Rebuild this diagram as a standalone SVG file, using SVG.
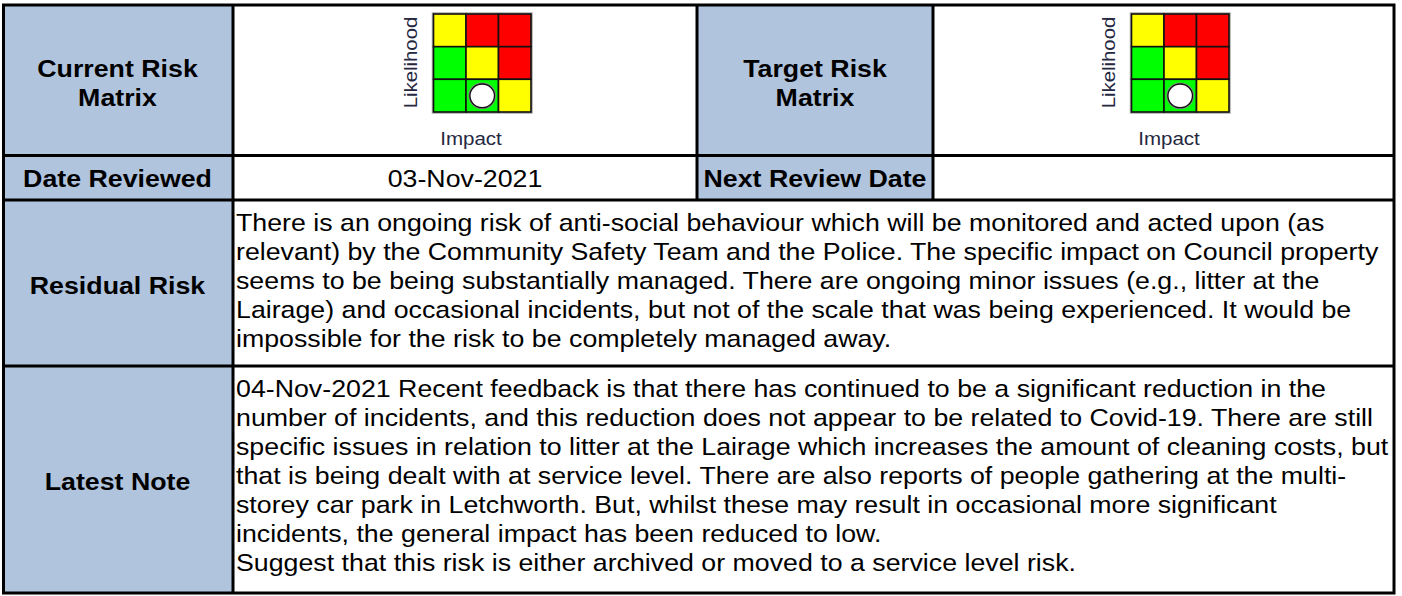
<svg xmlns="http://www.w3.org/2000/svg" width="1402" height="596" viewBox="0 0 1402 596">
<style>
.lbl{font-family:"Liberation Sans",Arial,sans-serif;font-weight:bold;font-size:24px;fill:#000}
.txt{font-family:"Liberation Sans",Arial,sans-serif;font-size:24px;fill:#000}
.ax{font-family:"Liberation Sans",Arial,sans-serif;font-size:18.5px;fill:#25283f}
.hdr{fill:#B0C4DE}
.line{stroke:#000;stroke-width:3;fill:none}
.cell{stroke:#111;stroke-width:1.6}
.y{fill:#FFFF00}
.r{fill:#FF0000}
.g{fill:#00FF00}
</style>
<defs>
<g id="matrix">
<rect x="433.5" y="14" width="97.5" height="98" fill="none" stroke="#aaa" stroke-width="3.5"/>
<rect class="cell y" x="433.5" y="14" width="32.5" height="32.7"/>
<rect class="cell r" x="466" y="14" width="32.5" height="32.7"/>
<rect class="cell r" x="498.5" y="14" width="32.5" height="32.7"/>
<rect class="cell g" x="433.5" y="46.7" width="32.5" height="32.6"/>
<rect class="cell y" x="466" y="46.7" width="32.5" height="32.6"/>
<rect class="cell r" x="498.5" y="46.7" width="32.5" height="32.6"/>
<rect class="cell g" x="433.5" y="79.3" width="32.5" height="32.7"/>
<rect class="cell g" x="466" y="79.3" width="32.5" height="32.7"/>
<rect class="cell y" x="498.5" y="79.3" width="32.5" height="32.7"/>
<ellipse cx="482.2" cy="95.8" rx="12.3" ry="11.8" fill="#fff" stroke="#888" stroke-width="3"/>
<ellipse cx="482.2" cy="95.8" rx="12.3" ry="11.8" fill="#fff" stroke="#111" stroke-width="1.4"/>
<text class="ax" text-anchor="middle" transform="translate(417,62.5) rotate(-90) scale(1.1,1)">Likelihood</text>
<text class="ax" text-anchor="middle" transform="translate(471,145) scale(1.11,1)">Impact</text>
</g>
</defs>
<rect x="0" y="0" width="1402" height="596" fill="#fff"/>
<g id="header-cells">
<rect class="hdr" x="3.5" y="5" width="229.5" height="588"/>
<rect class="hdr" x="697" y="5" width="236" height="195"/>
</g>
<g id="current-risk-matrix">
<text class="lbl" text-anchor="middle" transform="translate(117.5,77) scale(1.115,1)">Current Risk</text>
<text class="lbl" text-anchor="middle" transform="translate(117.5,106) scale(1.115,1)">Matrix</text>
<use href="#matrix"/>
</g>
<g id="target-risk-matrix">
<text class="lbl" text-anchor="middle" transform="translate(815,77) scale(1.115,1)">Target Risk</text>
<text class="lbl" text-anchor="middle" transform="translate(815,106) scale(1.115,1)">Matrix</text>
<use href="#matrix" x="698"/>
</g>
<g id="date-reviewed">
<text class="lbl" text-anchor="middle" transform="translate(117.5,187) scale(1.115,1)">Date Reviewed</text>
<text class="txt" text-anchor="middle" transform="translate(465,187) scale(1.115,1)">03-Nov-2021</text>
</g>
<g id="next-review-date">
<text class="lbl" text-anchor="middle" transform="translate(815,187) scale(1.115,1)">Next Review Date</text>
</g>
<g id="residual-risk">
<text class="lbl" text-anchor="middle" transform="translate(117.5,294) scale(1.115,1)">Residual Risk</text>
<g transform="translate(236,0) scale(1.115,1)">
<text class="txt" x="0" y="231">There is an ongoing risk of anti-social behaviour which will be monitored and acted upon (as</text>
<text class="txt" x="0" y="260">relevant) by the Community Safety Team and the Police. The specific impact on Council property</text>
<text class="txt" x="0" y="289">seems to be being substantially managed. There are ongoing minor issues (e.g., litter at the</text>
<text class="txt" x="0" y="318">Lairage) and occasional incidents, but not of the scale that was being experienced. It would be</text>
<text class="txt" x="0" y="347">impossible for the risk to be completely managed away.</text>
</g>
</g>
<g id="latest-note">
<text class="lbl" text-anchor="middle" transform="translate(117.5,490) scale(1.115,1)">Latest Note</text>
<g transform="translate(236,0) scale(1.115,1)">
<text class="txt" x="0" y="397">04-Nov-2021 Recent feedback is that there has continued to be a significant reduction in the</text>
<text class="txt" x="0" y="426">number of incidents, and this reduction does not appear to be related to Covid-19. There are still</text>
<text class="txt" x="0" y="455">specific issues in relation to litter at the Lairage which increases the amount of cleaning costs, but</text>
<text class="txt" x="0" y="484">that is being dealt with at service level. There are also reports of people gathering at the multi-</text>
<text class="txt" x="0" y="513">storey car park in Letchworth. But, whilst these may result in occasional more significant</text>
<text class="txt" x="0" y="542">incidents, the general impact has been reduced to low.</text>
<text class="txt" x="0" y="571">Suggest that this risk is either archived or moved to a service level risk.</text>
</g>
</g>
<g id="grid-lines">
<rect class="line" x="3.5" y="5" width="1390.5" height="588"/>
<line class="line" x1="3.5" y1="155.5" x2="1394" y2="155.5"/>
<line class="line" x1="3.5" y1="200" x2="1394" y2="200"/>
<line class="line" x1="3.5" y1="366" x2="1394" y2="366"/>
<line class="line" x1="233" y1="5" x2="233" y2="593"/>
<line class="line" x1="697" y1="5" x2="697" y2="200"/>
<line class="line" x1="933" y1="5" x2="933" y2="200"/>
</g>
</svg>
